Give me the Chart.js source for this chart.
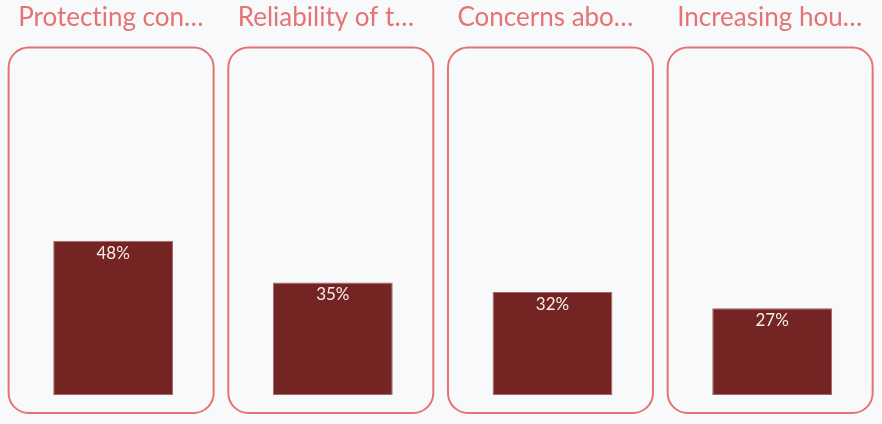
<!DOCTYPE html>
<html>
<head>
<meta charset="utf-8">
<script src="https://cdn.jsdelivr.net/npm/chart.js@4.4.1/dist/chart.umd.min.js"></script>
<style>
  html, body { margin: 0; padding: 0; background: #f8f9fb; }
  #wrap { width: 882px; height: 424px; position: relative; }
</style>
</head>
<body>
<div id="wrap"><canvas id="c" width="882" height="424"></canvas></div>
<script>
const categories = [
  'Protecting consumer data',
  'Reliability of technology',
  'Concerns about privacy',
  'Increasing household costs'
];
const values = [48, 35, 32, 27];
const valueLabels = ['48%', '35%', '32%', '27%'];

const ACCENT = '#e57373';
const BAR = '#742422';
const FONT = 'Lato, "Open Sans", sans-serif';

function truncate(ctx, text, maxW) {
  if (ctx.measureText(text).width <= maxW) return text;
  let s = text;
  while (s.length > 0 && ctx.measureText(s + '…').width > maxW) s = s.slice(0, -1);
  return s.trimEnd() + '…';
}

const panelPlugin = {
  id: 'panels',
  beforeDatasetsDraw(chart) {
    const ctx = chart.ctx;
    const xs = chart.scales.x;
    ctx.save();
    categories.forEach((name, i) => {
      const cx = xs.getPixelForValue(i) - 2;
      const w = 205, x = cx - w / 2, y = 47.5, h = 365.5, r = 20;
      ctx.beginPath();
      ctx.roundRect(x, y, w, h, r);
      ctx.lineWidth = 2;
      ctx.strokeStyle = ACCENT;
      ctx.stroke();
      ctx.font = '26px ' + FONT;
      if ('textRendering' in ctx) ctx.textRendering = 'optimizeSpeed';
      ctx.fillStyle = ACCENT;
      ctx.textBaseline = 'alphabetic';
      ctx.textAlign = 'left';
      ctx.fillText(truncate(ctx, name, 187), x + 9.5, 25.5);
    });
    ctx.restore();
  },
  afterDatasetsDraw(chart) {
    const ctx = chart.ctx;
    const meta = chart.getDatasetMeta(0);
    ctx.save();
    ctx.font = '17px ' + FONT;
    ctx.fillStyle = '#f6eeee';
    ctx.textAlign = 'center';
    ctx.textBaseline = 'alphabetic';
    meta.data.forEach((bar, i) => {
      ctx.fillText(valueLabels[i], bar.x, bar.y + 18);
    });
    ctx.restore();
  }
};

new Chart(document.getElementById('c'), {
  type: 'bar',
  data: {
    labels: categories,
    datasets: [{
      data: values,
      backgroundColor: BAR,
      borderColor: '#a5696b',
      borderWidth: 1,
      borderSkipped: false,
      barPercentage: 0.5455,
      categoryPercentage: 1
    }]
  },
  options: {
    responsive: false,
    animation: false,
    layout: { padding: { left: 3.3, right: -1.3, top: 73.5, bottom: 29 } },
    plugins: { legend: { display: false }, tooltip: { enabled: false }, title: { display: false } },
    scales: {
      x: { display: false },
      y: { display: false, min: 0, max: 100 }
    }
  },
  plugins: [panelPlugin]
});
</script>
</body>
</html>
